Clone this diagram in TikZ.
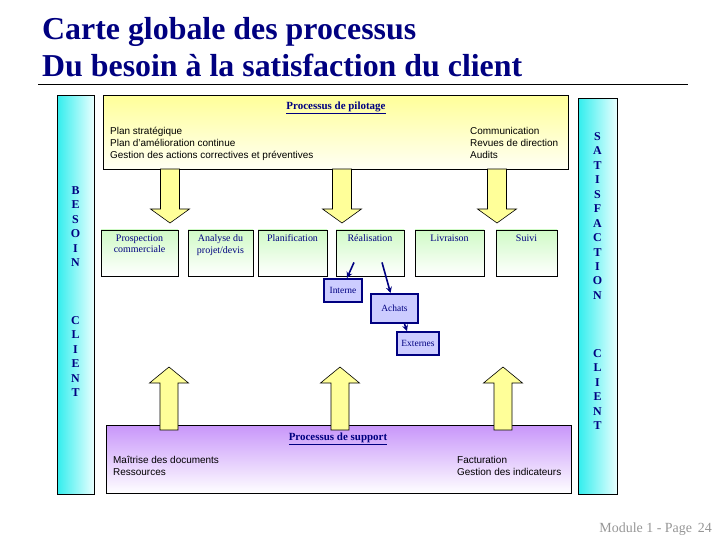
\documentclass[tikz,border=0pt]{standalone}
\usepackage{fontspec}
\setmainfont{Liberation Serif}
\setsansfont{Liberation Sans}
\usetikzlibrary{arrows.meta}

\definecolor{navy}{RGB}{0,0,128}
\definecolor{jaune}{RGB}{255,255,153}
\definecolor{vert}{RGB}{208,250,198}
\definecolor{mauve}{RGB}{200,150,250}
\definecolor{cyan1}{RGB}{51,238,238}
\definecolor{lavande}{RGB}{204,204,255}
\definecolor{gris}{RGB}{150,150,150}

\tikzset{
  titre/.style={anchor=base west, inner sep=0, text=navy, font=\fontsize{32}{32}\selectfont\bfseries},
  bande/.style={draw=black, line width=0.8bp, left color=cyan1, right color=cyan!8, anchor=north west},
  lettres/.style={align=center, inner sep=0, text=navy, font=\fontsize{12}{14.5}\selectfont\bfseries},
  cadre/.style={draw=black, line width=0.8bp, anchor=north west},
  entete/.style={inner sep=0, text=navy, font=\fontsize{11}{11}\selectfont\bfseries},
  liste/.style={anchor=north west, align=left, inner sep=0, font=\sffamily\fontsize{10}{12}\selectfont},
  procbox/.style={draw=black, line width=0.8bp, top color=vert, bottom color=white, minimum height=46bp},
  lbl/.style={below, inner sep=5bp, align=center, text=navy, font=\fontsize{10}{11.5}\selectfont},
  achat/.style={draw=navy, line width=2bp, fill=lavande, inner sep=0, text=navy, font=\fontsize{9.5}{9.5}\selectfont},
  fleche/.style={draw=black, line width=0.6bp, fill=jaune},
  lien/.style={draw=navy, line width=1.6bp, -{Stealth[length=6bp,width=6bp]}}
}

\begin{document}
\begin{tikzpicture}[x=1bp,y=-1bp]
    \useasboundingbox (0,0) rectangle (720,540);

    \node[titre] (t1) at (42,40) {Carte globale des processus};
    \node[titre] (t2) at (42,77) {Du besoin à la satisfaction du client};
    \coordinate (L1) at (38,84);
    \coordinate (L2) at (688,84);
    \draw[line width=0.8bp] (L1) -- (L2);

    \node[bande, minimum width=37bp, minimum height=399bp] (besoin) at (57,95) {};
    \node[bande, minimum width=39bp, minimum height=396bp] (satis) at (578,98) {};
    \node[lettres] (b1) at (75.5,226.5) {B\\E\\S\\O\\I\\N};
    \node[lettres] (b2) at (75.5,356.5) {C\\L\\I\\E\\N\\T};
    \node[lettres] (s1) at (597.5,216) {S\\A\\T\\I\\S\\F\\A\\C\\T\\I\\O\\N};
    \node[lettres] (s2) at (597.5,389.5) {C\\L\\I\\E\\N\\T};

    \node[cadre, top color=jaune, bottom color=yellow!4, minimum width=465bp, minimum height=74bp] (pilot) at (103,95) {};
    \node[entete] (pilot-t) at (336,108) {\underline{Processus de pilotage}};
    \node[liste] (pilot-g) at (110,127) {Plan stratégique\\Plan d'amélioration continue\\Gestion des actions correctives et préventives};
    \node[liste] (pilot-d) at (470,127) {Communication\\Revues de direction\\Audits};

    \foreach \cx in {170,342,497}
        \draw[fleche] (\cx-9.5,169) -- (\cx-9.5,209) -- (\cx-19.5,209) -- (\cx,223)
            -- (\cx+19.5,209) -- (\cx+9.5,209) -- (\cx+9.5,169) -- cycle;

    \node[procbox, minimum width=77bp, label={[lbl]north:{Prospection\\commerciale}}] (pros) at (139.5,253) {};
    \node[procbox, minimum width=65bp, label={[lbl]north:{Analyse du\\projet/devis}}] (anal) at (220.5,253) {};
    \node[procbox, minimum width=69bp, label={[lbl]north:Planification}] (plan) at (292.5,253) {};
    \node[procbox, minimum width=68bp, label={[lbl]north:Réalisation}] (real) at (370,253) {};
    \node[procbox, minimum width=69bp, label={[lbl]north:Livraison}] (livr) at (449.5,253) {};
    \node[procbox, minimum width=61bp, label={[lbl]north:Suivi}] (suivi) at (526.5,253) {};

    \node[achat, minimum width=38bp, minimum height=23bp] (interne) at (343,290.5) {Interne};
    \node[achat, minimum width=47bp, minimum height=29bp] (achats) at (394.5,308.5) {Achats};
    \node[achat, minimum width=42bp, minimum height=23bp] (externes) at (418,343.5) {Externes};

    \coordinate (r1) at ([xshift=-16bp,yshift=14bp]real.south);
    \coordinate (r2) at ([xshift=12bp,yshift=14bp]real.south);
    \draw[lien] (r1) -- ([xshift=4bp]interne.north);
    \draw[lien] (r2) -- ([xshift=-4bp]achats.north);
    \draw[lien] ([xshift=10bp]achats.south) -- ([xshift=-11bp]externes.north);

    \node[cadre, top color=mauve, bottom color=white, minimum width=465bp, minimum height=68bp] (support) at (106,425) {};
    \node[entete] (support-t) at (338,439) {\underline{Processus de support}};
    \node[liste] (support-g) at (113,456) {Maîtrise des documents\\Ressources};
    \node[liste] (support-d) at (457,456) {Facturation\\Gestion des indicateurs};

    \foreach \cx in {169,340,503}
        \draw[fleche] (\cx-9,430) -- (\cx-9,383) -- (\cx-19.5,383) -- (\cx,367)
            -- (\cx+19.5,383) -- (\cx+9,383) -- (\cx+9,430) -- cycle;

    \node[anchor=base east, inner sep=0, text=gris, font=\fontsize{14}{14}\selectfont] (page) at (712,532) {Module 1 - Page\, 24};

\end{tikzpicture}
\end{document}
